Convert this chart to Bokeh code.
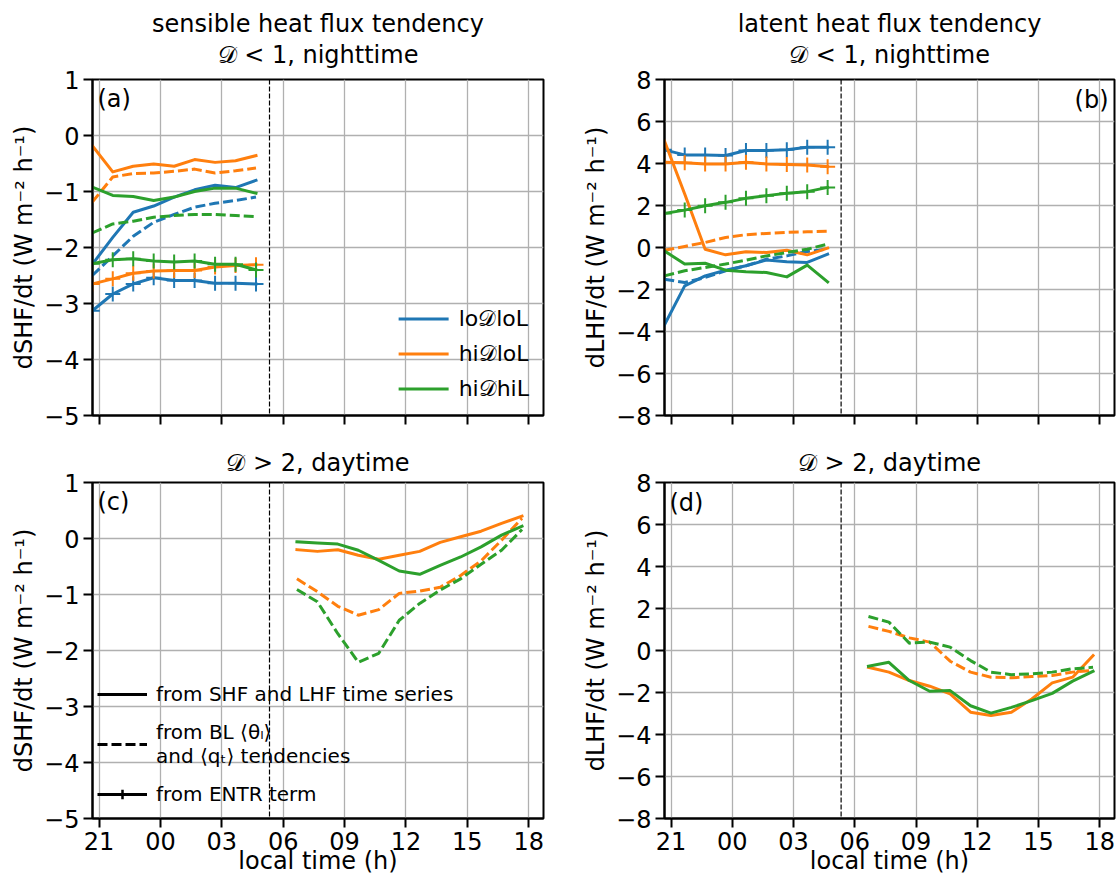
from bokeh.plotting import figure
from bokeh.layouts import column, row
from bokeh.models import FixedTicker, Span, Label, Legend, LegendItem, Title, Range1d
from bokeh.embed import file_html
from bokeh.resources import INLINE

FONT = "DejaVu Sans"
BLUE, ORANGE, GREEN = "#1f77b4", "#ff7f0e", "#2ca02c"
GRID = "#b0b0b0"
NAN = float("nan")

# ---------------- axes / ticks ----------------
x_tick_values = [21, 24, 27, 30, 33, 36, 39, 42]
x_tick_labels = ["21", "00", "03", "06", "09", "12", "15", "18"]
x_limits = [20.68, 42.72]
sunrise_hour = 29.33

shf_ticks = [-5, -4, -3, -2, -1, 0, 1]
shf_tick_labels = ["\u22125", "\u22124", "\u22123", "\u22122", "\u22121", "0", "1"]
lhf_ticks = [-8, -6, -4, -2, 0, 2, 4, 6, 8]
lhf_tick_labels = ["\u22128", "\u22126", "\u22124", "\u22122", "0", "2", "4", "6", "8"]

groups = ["lo\U0001D49FloL", "hi\U0001D49FloL", "hi\U0001D49FhiL"]
style_labels = ["from SHF and LHF time series",
                "from BL \u27E8\u03B8\u2097\u27E9\nand \u27E8q\u209C\u27E9 tendencies",
                "from ENTR term"]
title_a = ["sensible heat flux tendency", "\U0001D49F < 1, nighttime"]
title_b = ["latent heat flux tendency", "\U0001D49F < 1, nighttime"]
title_cd = ["\U0001D49F > 2, daytime"]

# ---------------- data ----------------
night_hours = [20.67, 21.67, 22.67, 23.67, 24.67, 25.67, 26.67, 27.67, 28.67]
day_hours = [30.67, 31.67, 32.67, 33.67, 34.67, 35.67, 36.67, 37.67, 38.67, 39.67, 40.67, 41.67]

# (a) dSHF/dt, D<1 nighttime
a_loDloL_series = [-2.30, -1.82, -1.37, -1.26, -1.10, -0.97, -0.89, -0.93, -0.80]
a_loDloL_bl = [-2.50, -2.15, -1.80, -1.55, -1.41, -1.28, -1.21, -1.16, -1.10]
a_loDloL_entr = [-3.13, -2.83, -2.65, -2.54, -2.59, -2.59, -2.64, -2.64, -2.65]
a_hiDloL_series = [-0.18, -0.65, -0.55, -0.51, -0.55, -0.43, -0.48, -0.45, -0.36]
a_hiDloL_bl = [-1.19, -0.74, -0.68, -0.67, -0.64, -0.60, -0.67, -0.63, -0.58]
a_hiDloL_entr = [-2.65, -2.56, -2.46, -2.42, -2.41, -2.41, -2.35, -2.32, -2.31]
a_hiDhiL_series = [-0.92, -1.07, -1.09, -1.16, -1.10, -1.00, -0.94, -0.94, -1.03]
a_hiDhiL_bl = [-1.74, -1.58, -1.53, -1.46, -1.43, -1.41, -1.41, -1.43, -1.45]
a_hiDhiL_entr = [-2.29, -2.22, -2.20, -2.24, -2.26, -2.24, -2.30, -2.30, -2.40]

# (b) dLHF/dt, D<1 nighttime
b_loDloL_series = [-3.70, -1.83, -1.35, -1.08, -0.87, -0.60, -0.68, -0.71, -0.32]
b_loDloL_bl = [-1.51, -1.67, -1.43, -1.11, -0.87, -0.56, -0.40, -0.19, -0.08]
b_loDloL_entr = [4.65, 4.41, 4.41, 4.38, 4.62, 4.62, 4.65, 4.77, 4.77]
b_hiDloL_series = [5.09, 2.55, -0.08, -0.35, -0.20, -0.24, -0.13, -0.35, -0.03]
b_hiDloL_bl = [-0.13, 0.05, 0.24, 0.48, 0.61, 0.67, 0.72, 0.75, 0.77]
b_hiDloL_entr = [4.06, 4.03, 3.98, 3.98, 4.06, 3.98, 3.95, 3.93, 3.85]
b_hiDhiL_series = [-0.16, -0.79, -0.75, -1.08, -1.15, -1.19, -1.40, -0.84, -1.64]
b_hiDhiL_bl = [-1.35, -1.11, -0.95, -0.79, -0.60, -0.40, -0.24, -0.08, 0.16]
b_hiDhiL_entr = [1.62, 1.78, 1.99, 2.15, 2.34, 2.47, 2.58, 2.66, 2.86]

# (c) dSHF/dt, D>2 daytime
c_hiDloL_series = [-0.20, -0.23, -0.20, -0.30, -0.37, -0.30, -0.23, -0.07, 0.03, 0.13, 0.27, 0.40]
c_hiDloL_bl = [-0.72, -0.95, -1.21, -1.37, -1.27, -0.98, -0.94, -0.87, -0.66, -0.40, -0.03, 0.36]
c_hiDhiL_series = [-0.06, -0.08, -0.10, -0.21, -0.39, -0.58, -0.64, -0.48, -0.33, -0.15, 0.06, 0.22]
c_hiDhiL_bl = [-0.91, -1.13, -1.70, -2.21, -2.05, -1.46, -1.16, -0.92, -0.72, -0.46, -0.21, 0.16]

# (d) dLHF/dt, D>2 daytime
d_hiDloL_series = [-0.80, -1.03, -1.43, -1.70, -2.07, -2.94, -3.10, -2.94, -2.31, -1.54, -1.27, -0.24]
d_hiDloL_bl = [1.15, 0.91, 0.60, 0.40, -0.51, -1.03, -1.27, -1.30, -1.24, -1.19, -1.03, -0.95]
d_hiDhiL_series = [-0.75, -0.56, -1.43, -1.94, -1.91, -2.63, -2.98, -2.71, -2.39, -2.04, -1.46, -0.99]
d_hiDhiL_bl = [1.62, 1.35, 0.35, 0.40, 0.16, -0.48, -1.03, -1.15, -1.11, -1.03, -0.87, -0.80]

LW = 3
DASH = "10 4"
FS = "24px"
FRAME_H = 336


def make_fig(ylim, yticks, ylabels, ylabel, frame_w, left, right, top, bottom, show_x):
    p = figure(frame_width=frame_w, frame_height=FRAME_H,
               x_range=Range1d(x_limits[0], x_limits[1]),
               y_range=Range1d(ylim[0], ylim[1]),
               output_backend="svg", toolbar_location=None, title=None,
               min_border_left=left, min_border_right=right,
               min_border_top=top, min_border_bottom=bottom)
    p.background_fill_color = "white"
    p.border_fill_color = "white"
    p.outline_line_color = "black"
    p.outline_line_width = 2
    p.outline_line_alpha = 1
    p.xaxis.ticker = FixedTicker(ticks=x_tick_values)
    if show_x:
        p.xaxis.major_label_overrides = dict(zip(x_tick_values, x_tick_labels))
    else:
        p.xaxis.major_label_overrides = {v: "" for v in x_tick_values}
    p.yaxis.ticker = FixedTicker(ticks=yticks)
    p.yaxis.major_label_overrides = dict(zip(yticks, ylabels))
    p.xgrid.ticker = FixedTicker(ticks=x_tick_values)
    p.ygrid.ticker = FixedTicker(ticks=yticks)
    p.grid.grid_line_color = GRID
    p.grid.grid_line_width = 1.3
    for ax in (p.xaxis[0], p.yaxis[0]):
        ax.axis_line_width = 2
        ax.axis_line_color = "black"
        ax.major_tick_line_width = 2
        ax.major_tick_line_color = "black"
        ax.major_tick_out = 9
        ax.major_tick_in = 0
        ax.minor_tick_out = 0
        ax.minor_tick_in = 0
        ax.major_label_text_font = FONT
        ax.major_label_text_font_size = FS
        ax.major_label_text_color = "black"
        ax.axis_label_text_font = FONT
        ax.axis_label_text_font_size = FS
        ax.axis_label_text_font_style = "normal"
        ax.axis_label_text_color = "black"
    p.yaxis.major_label_standoff = 4
    p.yaxis.axis_label = ylabel
    p.yaxis.axis_label_standoff = 3
    if show_x:
        p.xaxis.major_label_standoff = 4
        p.xaxis.axis_label = "local time (h)"
        p.xaxis.axis_label_standoff = -6
    else:
        p.xaxis.major_label_standoff = 0
    p.add_layout(Span(location=sunrise_hour, dimension="height", line_color="black",
                      line_dash="5 2", line_width=1.2))
    return p


def add_title(p, lines, standoffs):
    # the first Title added sits nearest the frame
    for t, s in zip(reversed(lines), standoffs):
        p.add_layout(Title(text=t, align="center", text_font=FONT, text_font_size=FS,
                           text_font_style="normal", text_color="black", standoff=s), "above")


def series_line(p, hours, vals, color):
    return p.line(hours, vals, line_color=color, line_width=LW, line_cap="square", line_join="round")


def bl_line(p, hours, vals, color):
    return p.line(hours, vals, line_color=color, line_width=LW, line_dash=DASH, line_join="round")


def entr_line(p, hours, vals, color):
    r = p.line(hours, vals, line_color=color, line_width=LW, line_cap="square", line_join="round")
    p.scatter(hours, vals, marker="cross", size=15, line_color=color, line_width=2)
    return r


def panel_label(p, text, x, y, align):
    p.add_layout(Label(x=x, y=y, text=text, text_align=align, text_baseline="top",
                       text_font=FONT, text_font_size=FS, text_color="black"))


# ---------------- panel (a) ----------------
pa = make_fig((-5, 1), shf_ticks, shf_tick_labels, "dSHF/dt (W m\u207B\u00B2 h\u207B\u00B9)",
              451, 92, 5, 79, 24, False)
add_title(pa, title_a, [22, -20])
ra_lo = series_line(pa, night_hours, a_loDloL_series, BLUE)
bl_line(pa, night_hours, a_loDloL_bl, BLUE)
entr_line(pa, night_hours, a_loDloL_entr, BLUE)
ra_hd = series_line(pa, night_hours, a_hiDloL_series, ORANGE)
bl_line(pa, night_hours, a_hiDloL_bl, ORANGE)
entr_line(pa, night_hours, a_hiDloL_entr, ORANGE)
ra_hh = series_line(pa, night_hours, a_hiDhiL_series, GREEN)
bl_line(pa, night_hours, a_hiDhiL_bl, GREEN)
entr_line(pa, night_hours, a_hiDhiL_entr, GREEN)
panel_label(pa, "(a)", 20.92, 0.90, "left")
leg_a = Legend(items=[LegendItem(label=g, renderers=[r]) for g, r in zip(groups, [ra_lo, ra_hd, ra_hh])],
               location="bottom_right", label_text_font=FONT, label_text_font_size="22px",
               label_text_color="black",
               glyph_width=50, glyph_height=25, label_height=25, label_standoff=10, spacing=10,
               padding=5, margin=14, border_line_color=None, background_fill_alpha=0)
pa.add_layout(leg_a)

# ---------------- panel (b) ----------------
pb = make_fig((-8, 8), lhf_ticks, lhf_tick_labels, "dLHF/dt (W m\u207B\u00B2 h\u207B\u00B9)",
              450, 116, 4, 79, 24, False)
add_title(pb, title_b, [22, -20])
series_line(pb, night_hours, b_loDloL_series, BLUE)
bl_line(pb, night_hours, b_loDloL_bl, BLUE)
entr_line(pb, night_hours, b_loDloL_entr, BLUE)
series_line(pb, night_hours, b_hiDloL_series, ORANGE)
bl_line(pb, night_hours, b_hiDloL_bl, ORANGE)
entr_line(pb, night_hours, b_hiDloL_entr, ORANGE)
series_line(pb, night_hours, b_hiDhiL_series, GREEN)
bl_line(pb, night_hours, b_hiDhiL_bl, GREEN)
entr_line(pb, night_hours, b_hiDhiL_entr, GREEN)
panel_label(pb, "(b)", 42.43, 7.71, "right")

# ---------------- panel (c) ----------------
pc = make_fig((-5, 1), shf_ticks, shf_tick_labels, "dSHF/dt (W m\u207B\u00B2 h\u207B\u00B9)",
              451, 92, 5, 43, 58, True)
add_title(pc, title_cd, [11])
series_line(pc, day_hours, c_hiDloL_series, ORANGE)
bl_line(pc, day_hours, c_hiDloL_bl, ORANGE)
series_line(pc, day_hours, c_hiDhiL_series, GREEN)
bl_line(pc, day_hours, c_hiDhiL_bl, GREEN)
panel_label(pc, "(c)", 20.92, 0.90, "left")
k1 = pc.line([NAN, NAN], [NAN, NAN], line_color="black", line_width=LW)
k2 = pc.line([NAN, NAN], [NAN, NAN], line_color="black", line_width=LW, line_dash=DASH)
k3 = pc.line([NAN, NAN], [NAN, NAN], line_color="black", line_width=LW)
k3m = pc.scatter([NAN], [NAN], marker="cross", size=17, line_color="black", line_width=2.5)
leg_c = Legend(items=[LegendItem(label=style_labels[0], renderers=[k1]),
                      LegendItem(label=style_labels[1], renderers=[k2]),
                      LegendItem(label=style_labels[2], renderers=[k3, k3m])],
               location=(5, 12), label_text_font=FONT, label_text_font_size="20px",
               label_text_color="black",
               glyph_width=50, glyph_height=24, label_height=24, label_standoff=9, spacing=14,
               padding=4, border_line_color=None, background_fill_alpha=0)
pc.add_layout(leg_c)

# ---------------- panel (d) ----------------
pd_ = make_fig((-8, 8), lhf_ticks, lhf_tick_labels, "dLHF/dt (W m\u207B\u00B2 h\u207B\u00B9)",
               450, 116, 4, 43, 58, True)
add_title(pd_, title_cd, [11])
series_line(pd_, day_hours, d_hiDloL_series, ORANGE)
bl_line(pd_, day_hours, d_hiDloL_bl, ORANGE)
series_line(pd_, day_hours, d_hiDhiL_series, GREEN)
bl_line(pd_, day_hours, d_hiDhiL_bl, GREEN)
panel_label(pd_, "(d)", 20.92, 7.71, "left")

layout = column(row(pa, pb), row(pc, pd_))
open("out.html", "w").write(file_html(layout, INLINE))
